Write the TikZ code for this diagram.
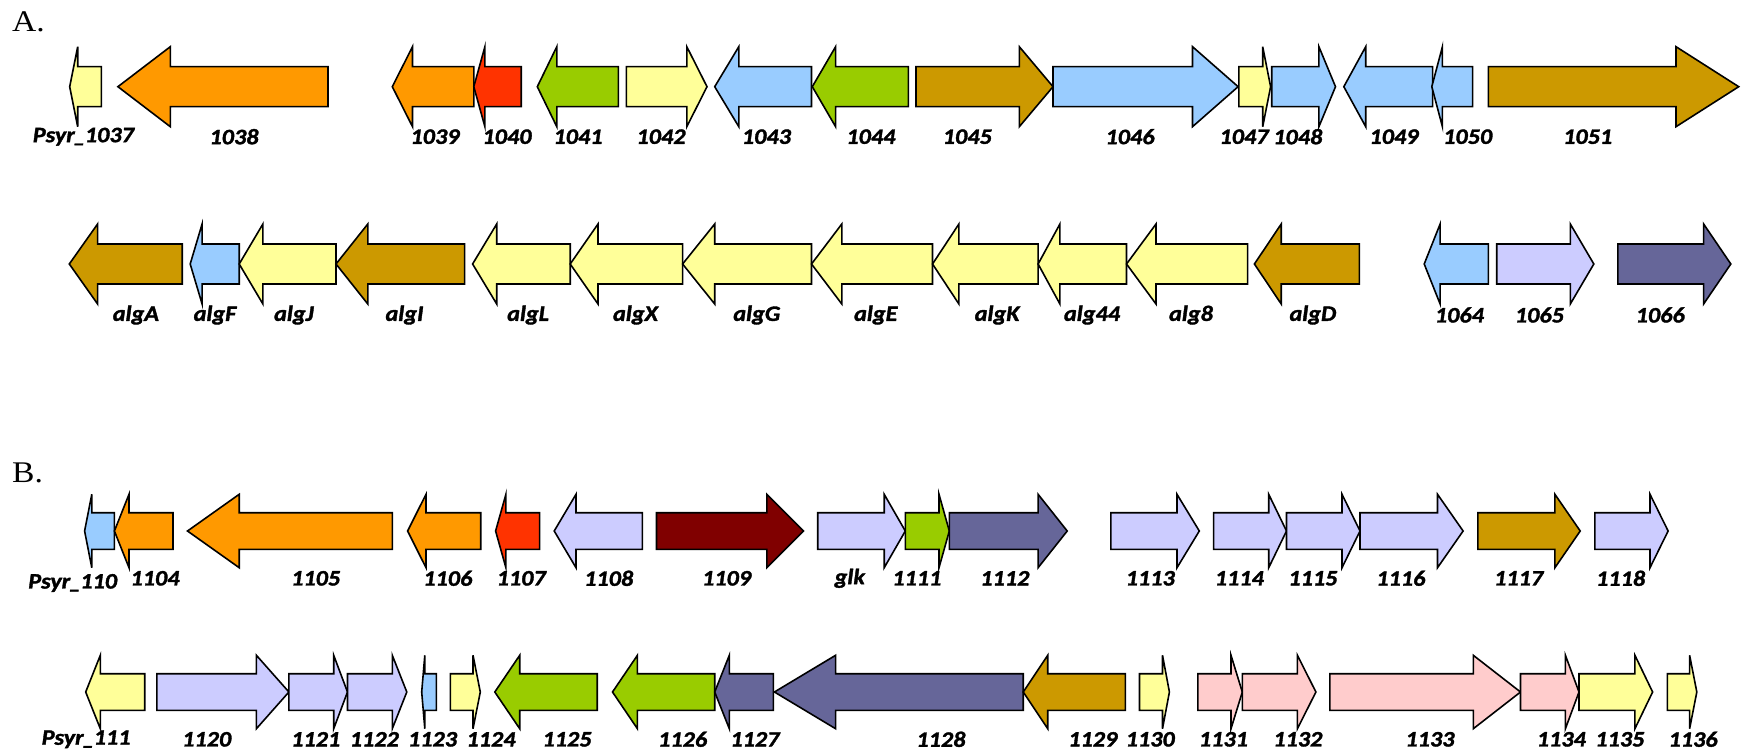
\documentclass[tikz,border=0pt]{standalone}
\usepackage{fontspec}
\setmainfont{Liberation Serif}[FakeStretch=1.12]
\newfontfamily\labfont{Carlito}[FakeStretch=1.1,FakeBold=1.6]
\definecolor{gyellow}{HTML}{FFFF99}
\definecolor{gorange}{HTML}{FF9900}
\definecolor{gred}{HTML}{FF3300}
\definecolor{ggreen}{HTML}{99CC00}
\definecolor{gblue}{HTML}{99CCFF}
\definecolor{ggold}{HTML}{CC9900}
\definecolor{glav}{HTML}{CCCCFF}
\definecolor{gslate}{HTML}{666699}
\definecolor{gdark}{HTML}{800000}
\definecolor{gpink}{HTML}{FFCCCC}
\tikzset{
  gene/.style={draw=black,line width=1.6pt,line join=miter},
  lab/.style={font=\labfont\bfseries\itshape\fontsize{22}{26}\selectfont,inner sep=0pt,anchor=center},
  panel/.style={font=\fontsize{30}{35}\selectfont,inner sep=0pt,anchor=base west}
}
% forward gene: name, colour, left end, head base, tip, label x, label text
\newcommand\fwd[7]{%
  \draw[gene,fill=#2] (#3,{\yc-\bh}) -- (#4,{\yc-\bh}) -- (#4,{\yc-\hh}) -- (#5,\yc)
    -- (#4,{\yc+\hh}) -- (#4,{\yc+\bh}) -- (#3,{\yc+\bh}) -- cycle;
  \node[lab] (#1) at (#6,\ly) {#7};}
% reverse gene: name, colour, tip, head base, right end, label x, label text
\newcommand\rev[7]{%
  \draw[gene,fill=#2] (#5,{\yc-\bh}) -- (#4,{\yc-\bh}) -- (#4,{\yc-\hh}) -- (#3,\yc)
    -- (#4,{\yc+\hh}) -- (#4,{\yc+\bh}) -- (#5,{\yc+\bh}) -- cycle;
  \node[lab] (#1) at (#6,\ly) {#7};}
\begin{document}
\begin{tikzpicture}[x=1pt,y=-1pt]
\useasboundingbox (0,0) rectangle (1752,754);

% ---------------- panel A ----------------
\node[panel] (pA) at (12,32) {A.};

\def\yc{86.7}\def\bh{20}\def\hh{40}\def\ly{136.7}
\rev{g1037}{gyellow}{69.7}{77.7}{101.4}{83.4}{Psyr\kern-1pt\_\kern-1pt1037}
\rev{g1038}{gorange}{117.9}{170.3}{328}{234}{1038}
\rev{g1039}{gorange}{392.3}{412.5}{473.8}{435}{1039}
\rev{g1040}{gred}{473.8}{484.9}{521.2}{507}{1040}
\rev{g1041}{ggreen}{537.3}{556.8}{618.3}{578}{1041}
\fwd{g1042}{gyellow}{626.3}{686.8}{707}{661}{1042}
\rev{g1043}{gblue}{714.7}{738.8}{811.5}{766.4}{1043}
\rev{g1044}{ggreen}{812.3}{835.6}{908.4}{870.9}{1044}
\fwd{g1045}{ggold}{916}{1019.3}{1053}{967.3}{1045}
\fwd{g1046}{gblue}{1053}{1192.5}{1238.1}{1130}{1046}
\fwd{g1047}{gyellow}{1238.9}{1262.7}{1270.6}{1244}{1047}
\fwd{g1048}{gblue}{1271.7}{1318.9}{1335.5}{1297.8}{1048}
\rev{g1049}{gblue}{1343.8}{1365.7}{1432.6}{1394}{1049}
\rev{g1050}{gblue}{1431.8}{1442.4}{1472.6}{1467.7}{1050}
\fwd{g1051}{ggold}{1488.4}{1676}{1738.7}{1587.7}{1051}

\def\yc{264}\def\ly{315}
\rev{galgA}{ggold}{69.3}{97.6}{182.2}{135.9}{algA}
\rev{galgF}{gblue}{190.2}{202.1}{239.2}{215}{algF}
\rev{galgJ}{gyellow}{239.2}{262.9}{336}{293.9}{algJ}
\rev{galgI}{ggold}{336}{367.8}{464.6}{404.5}{algI}
\rev{galgL}{gyellow}{472.6}{496.7}{570.2}{528.1}{algL}
\rev{galgX}{gyellow}{570.2}{598}{682.6}{635.5}{algX}
\rev{galgG}{gyellow}{682.6}{714.7}{811.5}{756.8}{algG}
\rev{galgE}{gyellow}{811.5}{841.8}{932.5}{875.8}{algE}
\rev{galgK}{gyellow}{932.5}{958.9}{1038.1}{997.1}{algK}
\rev{galg44}{gyellow}{1038.1}{1059.9}{1126.5}{1092}{alg44}
\rev{galg8}{gyellow}{1126.5}{1156}{1247.6}{1191}{alg8}
\rev{galgD}{ggold}{1254.4}{1281.2}{1359.3}{1312.9}{algD}
\rev{g1064}{gblue}{1424.2}{1440.1}{1488.4}{1459.4}{1064}
\fwd{g1065}{glav}{1496.7}{1570.3}{1593.8}{1539.4}{1065}
\fwd{g1066}{gslate}{1617.9}{1703.6}{1730.8}{1660.2}{1066}

% ---------------- panel B ----------------
\node[panel] (pB) at (12,482) {B.};

\def\yc{531}\def\bh{18.3}\def\hh{36.7}\def\ly{583}
\rev{g110}{gblue}{84.6}{91.8}{114.4}{72.7}{Psyr\kern-1pt\_\kern-1pt110}
\def\ly{578.3}
\rev{g1104}{gorange}{114.4}{129}{173}{155}{1104}
\rev{g1105}{gorange}{187.5}{239.2}{392.3}{315.7}{1105}
\rev{g1106}{gorange}{407.6}{426}{480.7}{447.8}{1106}
\rev{g1107}{gred}{495.6}{505.9}{539.6}{521.2}{1107}
\rev{g1108}{glav}{554.2}{576}{642.4}{608.7}{1108}
\fwd{g1109}{gdark}{656.5}{766.8}{803.5}{726.6}{1109}
\fwd{gglk}{glav}{817.7}{884.2}{905.3}{849.8}{glk}
\fwd{g1111}{ggreen}{905.3}{939}{949.3}{916.8}{1111}
\fwd{g1112}{gslate}{949.3}{1038.1}{1067.2}{1004.8}{1112}
\fwd{g1113}{glav}{1110.8}{1177}{1199.3}{1150.2}{1113}
\fwd{g1114}{glav}{1213.6}{1268.7}{1286.5}{1239.3}{1114}
\fwd{g1115}{glav}{1286.5}{1342}{1360}{1312.9}{1115}
\fwd{g1116}{glav}{1360}{1437.5}{1463.1}{1400.8}{1116}
\fwd{g1117}{ggold}{1477.9}{1554.9}{1580.2}{1518.6}{1117}
\fwd{g1118}{glav}{1594.9}{1650}{1668.1}{1620.6}{1118}

\def\yc{692}\def\ly{739.3}
\rev{g111}{gyellow}{85.7}{100.3}{144.7}{86.1}{Psyr\kern-1pt\_\kern-1pt111}
\fwd{g1120}{glav}{156.9}{256.4}{288.9}{206.7}{1120}
\fwd{g1121}{glav}{288.9}{333.7}{347.5}{315.7}{1121}
\fwd{g1122}{glav}{347.5}{392.3}{406.8}{374.3}{1122}
\rev{g1123}{gblue}{421.7}{424.8}{436.3}{432.5}{1123}
\fwd{g1124}{gyellow}{450.4}{473}{480.3}{491}{1124}
\rev{g1125}{ggreen}{494.8}{519.7}{597.2}{567}{1125}
\rev{g1126}{ggreen}{612.5}{637.4}{714.7}{682.6}{1126}
\rev{g1127}{gslate}{714.7}{729.3}{773.3}{754.9}{1127}
\rev{g1128}{gslate}{774.4}{835.6}{1023.2}{940.9}{1128}
\rev{g1129}{ggold}{1023.2}{1047.7}{1125.3}{1092.8}{1129}
\fwd{g1130}{gyellow}{1139.5}{1162.5}{1169.4}{1150.2}{1130}
\fwd{g1131}{gpink}{1197.8}{1231}{1242.3}{1223.4}{1131}
\fwd{g1132}{gpink}{1242.3}{1297.4}{1315.9}{1297.8}{1132}
\fwd{g1133}{gpink}{1329.9}{1473.3}{1520.5}{1429.9}{1133}
\fwd{g1134}{gpink}{1520.5}{1565.4}{1579}{1561.3}{1134}
\fwd{g1135}{gyellow}{1579}{1634.9}{1652.6}{1619.8}{1135}
\fwd{g1136}{gyellow}{1667.4}{1689.6}{1696.8}{1693}{1136}
\end{tikzpicture}
\end{document}
